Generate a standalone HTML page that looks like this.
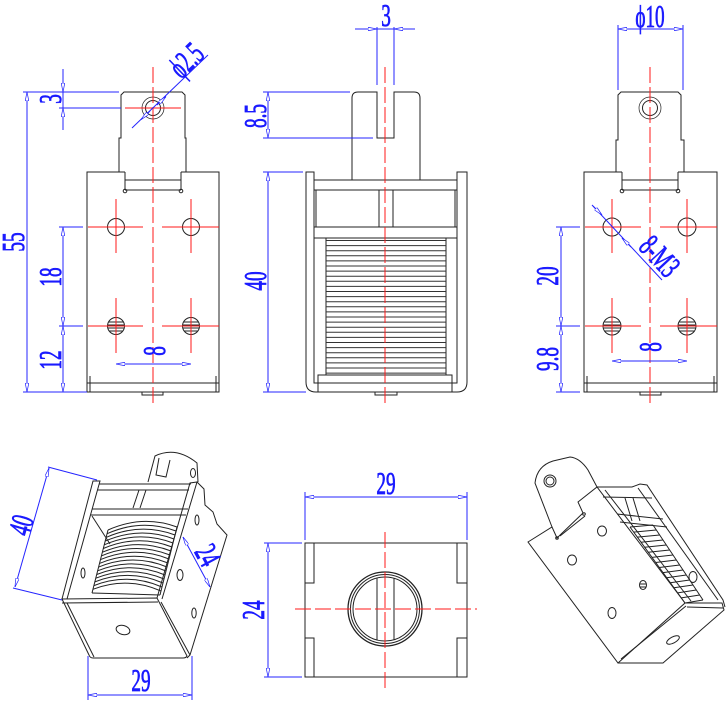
<!DOCTYPE html>
<html><head><meta charset="utf-8"><style>
html,body{margin:0;padding:0;background:#fff;}
svg{display:block}
.k{fill:none;stroke:#222;stroke-width:1}
.r{fill:none;stroke:#ff1a1a;stroke-width:1}
.rd{fill:none;stroke:#ff1a1a;stroke-width:1;stroke-dasharray:16 4}
.b{fill:none;stroke:#2424ff;stroke-width:1}
.t{font-family:"Liberation Serif",serif;font-size:32px;fill:#1a1aff;stroke:#1a1aff;stroke-width:0.8;text-anchor:middle;dominant-baseline:central}
</style></head><body>
<svg width="728" height="706" viewBox="0 0 728 706" xmlns="http://www.w3.org/2000/svg">
<defs>
<marker id="a" viewBox="0 0 10 4" refX="10" refY="2" markerWidth="9" markerHeight="3.6" markerUnits="userSpaceOnUse" orient="auto-start-reverse"><path d="M0,0L10,2L0,4Z" fill="#fff" stroke="#2424ff" stroke-width="0.8"/></marker>
</defs>

<!-- ============ LEFT VIEW ============ -->
<g class="k">
<path d="M119,172V138H121V95L124,92H182L185,95V138H186V172"/>
<path d="M125,172H87V392H219V172H181"/>
<path d="M125,172V190M181,172V190M125,180H181M125,190H181"/>
<circle cx="125" cy="191" r="1.8"/><circle cx="181" cy="191" r="1.8"/>
<path d="M87,383H219M90,376V392M216,376V392"/>
<rect x="142" y="392" width="21" height="3"/>
<circle cx="153" cy="108" r="11" stroke-width="0.7"/><circle cx="153" cy="108" r="7.5"/>
<circle cx="116" cy="227" r="8.5"/><circle cx="191" cy="227" r="8.5"/>
<circle cx="116" cy="326" r="8.5"/><circle cx="191" cy="326" r="8.5"/>
<path d="M108.5,322H123.5M107.6,325H124.4M107.7,328H124.3M109.1,331H122.9"/>
<path d="M183.5,322H198.5M182.6,325H199.4M182.7,328H199.3M184.1,331H197.9"/>
</g>
<g class="r">
<path d="M88,227H143M162,227H219M116,199V253M191,199V253M88,326H143M162,326H219M116,298V353M191,298V353M125,108H181"/>
</g>
<line class="rd" x1="153" y1="67" x2="153" y2="407"/>
<g class="b">
<path d="M23,92H119M23,392H87M59,108H121M59,227H83M59,326H83"/>
<path d="M27,92V392" marker-start="url(#a)" marker-end="url(#a)"/>
<path d="M63,69V92" marker-end="url(#a)"/>
<path d="M63,130V108" marker-end="url(#a)"/>
<path d="M63,92V108"/>
<path d="M63,227V326" marker-start="url(#a)" marker-end="url(#a)"/>
<path d="M63,326V392" marker-start="url(#a)" marker-end="url(#a)"/>
<path d="M116,364H191" marker-start="url(#a)" marker-end="url(#a)"/>
<path d="M132,128L208,55"/>
<path d="M150,111L141,119.6" marker-end="url(#a)"/>
<path d="M157,105L166,96.5" marker-end="url(#a)"/>
</g>
<text class="t" transform="translate(13,242) rotate(-90) scale(0.6,1)">55</text>
<text class="t" transform="translate(50,99) rotate(-90) scale(0.6,1)">3</text>
<text class="t" transform="translate(50,277) rotate(-90) scale(0.6,1)">18</text>
<text class="t" transform="translate(50,360) rotate(-90) scale(0.6,1)">12</text>
<text class="t" transform="translate(154,351) rotate(-90) scale(0.6,1)">8</text>
<text class="t" transform="translate(186,60) rotate(-44) scale(0.6,1)">ϕ2.5</text>

<!-- ============ MIDDLE VIEW ============ -->
<g class="k">
<path d="M352,180V98Q352,92 358,92H377V138H394V92H414Q420,92 420,98V180"/>
<path d="M306,172H314V383H457V172H467V382Q467,392 457,392H316Q306,392 306,382Z"/>
<rect x="314" y="180" width="143" height="10"/>
<rect x="316" y="190" width="139" height="37"/>
<path d="M379,190V227M393,190V227"/>
<rect x="314" y="227" width="143" height="11"/>
<rect x="318" y="375" width="134" height="17"/>
<rect x="375" y="392" width="22" height="3"/>
<path d="M326,238V375M446,238V375"/>
</g>
<line x1="386" y1="240" x2="386" y2="375" stroke="#333" stroke-width="120" stroke-dasharray="1 4.1"/>
<line class="rd" x1="385" y1="67" x2="385" y2="407"/>
<g class="b">
<path d="M377,27V85M394,27V85"/>
<path d="M355,29H377" marker-end="url(#a)"/>
<path d="M415,29H394" marker-end="url(#a)"/>
<path d="M377,29H394"/>
<path d="M263,92H350M263,138H373M263,172H303M263,392H306"/>
<path d="M268,92V138" marker-start="url(#a)" marker-end="url(#a)"/>
<path d="M268,172V392" marker-start="url(#a)" marker-end="url(#a)"/>
</g>
<text class="t" transform="translate(386,15) scale(0.6,1)">3</text>
<text class="t" transform="translate(255,116) rotate(-90) scale(0.6,1)">8.5</text>
<text class="t" transform="translate(255,281) rotate(-90) scale(0.6,1)">40</text>

<!-- ============ RIGHT VIEW ============ -->
<g class="k">
<path d="M616,172V140H618V95L621,92H678L681,95V140H684V172"/>
<path d="M622,172H584V392H717V172H678"/>
<path d="M622,172V190M678,172V190M622,180H678M622,190H678"/>
<circle cx="622" cy="191" r="1.8"/><circle cx="678" cy="191" r="1.8"/>
<path d="M584,383H717M587,376V392M714,376V392"/>
<rect x="640" y="392" width="21" height="3"/>
<circle cx="650" cy="108" r="11" stroke-width="0.7"/><circle cx="650" cy="108" r="7.5"/>
<circle cx="612" cy="227" r="9"/><circle cx="687" cy="227" r="9"/>
<circle cx="612" cy="326" r="9"/><circle cx="687" cy="326" r="9"/>
<path d="M604.5,322H619.5M603.6,325H620.4M603.7,328H620.3M605.1,331H618.9"/>
<path d="M679.5,322H694.5M678.6,325H695.4M678.7,328H695.3M680.1,331H693.9"/>
</g>
<g class="r">
<path d="M585,227H641M660,227H717M612,199V253M687,199V253M585,326H641M660,326H717M612,298V353M687,298V353"/>
</g>
<line class="rd" x1="650" y1="67" x2="650" y2="407"/>
<g class="b">
<path d="M618,25V90M683,25V90"/>
<path d="M618,29H683" marker-start="url(#a)" marker-end="url(#a)"/>
<path d="M556,227H580M556,326H580M556,392H580"/>
<path d="M561,227V326" marker-start="url(#a)" marker-end="url(#a)"/>
<path d="M561,326V392" marker-start="url(#a)" marker-end="url(#a)"/>
<path d="M612,361H687" marker-start="url(#a)" marker-end="url(#a)"/>
<path d="M592,205L662,280"/>
<path d="M593,206L602,215" marker-end="url(#a)"/>
<path d="M631,247L622,238" marker-end="url(#a)"/>
</g>
<text class="t" transform="translate(650,16) scale(0.6,1)">ϕ10</text>
<text class="t" transform="translate(547,276) rotate(-90) scale(0.6,1)">20</text>
<text class="t" transform="translate(547,359) rotate(-90) scale(0.6,1)">9.8</text>
<text class="t" transform="translate(650,347) rotate(-90) scale(0.6,1)">8</text>
<text class="t" transform="translate(660,256) rotate(47) scale(0.6,1)">8-M3</text>

<!-- ============ BOTTOM MIDDLE VIEW ============ -->
<g class="k">
<rect x="305" y="543" width="162" height="134"/>
<path d="M314,543V583H305M314,677V638H305M457,543V583H467M457,677V638H467"/>
<circle cx="385" cy="609" r="37" stroke-width="1.3"/>
<circle cx="385" cy="609" r="34.5"/>
<circle cx="385" cy="609" r="32"/>
<path d="M377,578V640M394,578V640"/>
</g>
<g class="rd">
<path d="M385,532V688"/>
<path d="M295,609H477"/>
</g>
<g class="b">
<path d="M305,492V540M467,492V540"/>
<path d="M305,497H467" marker-start="url(#a)" marker-end="url(#a)"/>
<path d="M264,543H302M264,677H302"/>
<path d="M268,543V677" marker-start="url(#a)" marker-end="url(#a)"/>
</g>
<text class="t" transform="translate(386,483) scale(0.6,1)">29</text>
<text class="t" transform="translate(253,610) rotate(-90) scale(0.6,1)">24</text>

<!-- ============ BOTTOM LEFT ISO ============ -->
<g class="k">
<path d="M62,599L157,598L187,656Q186,658 183,658L93,658Q90,658 89,655Z"/>
<path d="M62,603L158,602"/>
<path d="M67,603L94,657M161,602L190,655"/>
<ellipse cx="123" cy="630" rx="7" ry="4.5" transform="rotate(15 123 630)"/>
<path d="M62,599L93,481L100,481L67,599"/>
<ellipse cx="83" cy="573" rx="2" ry="5"/>
<path d="M157,598L190,483L197,482L162,599"/>
<path d="M197,482L204,489L205,505L213,512L217,524L227,535L190,655L187,658"/>
<ellipse cx="197" cy="520" rx="2" ry="5"/>
<ellipse cx="180" cy="575" rx="3" ry="5.5"/>
<ellipse cx="194" cy="613" rx="2.2" ry="5"/>
<path d="M99,484H191M97,490H189M92,509H188M90,515H186"/>
<path d="M133,508L139,490M140,508L146,490"/>
<path d="M92,516L110,544"/>
<path d="M148,482L155,456Q176,446 197,463L198,482"/>
<path d="M159,458L156,475L166,477L170,460"/>
<ellipse cx="193" cy="473" rx="2.5" ry="4.5"/>
<path d="M108,530L92,593M177,527L160,595"/>
<path d="M108,530Q142.5,514.5 177,527M107.1,533.7Q141.5,518.3 176,531M106.1,537.4Q140.6,522.2 175,535M105.2,541.1Q139.6,526.1 174,539M104.2,544.8Q138.6,529.9 173,543M103.3,548.5Q137.7,533.8 172,547M102.4,552.2Q136.7,537.6 171,551M101.4,555.9Q135.7,541.5 170,555M100.5,559.6Q134.8,545.3 169,559M99.5,563.4Q133.8,549.2 168,563M98.6,567.1Q132.8,553 167,567M97.6,570.8Q131.8,556.9 166,571M96.7,574.5Q130.9,560.7 165,575M95.8,578.2Q129.9,564.6 164,579M94.8,581.9Q128.9,568.4 163,583M93.9,585.6Q128,572.3 162,587M92.9,589.3Q127,576.2 161,591M92,593L160,595"/>
</g>
<g class="b">
<path d="M48,467L97,480M13,588L62,600"/>
<path d="M49,468L15,587" marker-start="url(#a)" marker-end="url(#a)"/>
<path d="M183,537L210,587" marker-start="url(#a)" marker-end="url(#a)"/>
<path d="M88,656V700M192,656V700"/>
<path d="M88,695H192" marker-start="url(#a)" marker-end="url(#a)"/>
</g>
<text class="t" transform="translate(21,525) rotate(-74) scale(0.6,1)">40</text>
<text class="t" transform="translate(208,555) rotate(62) scale(0.6,1)">24</text>
<text class="t" transform="translate(141,680) scale(0.6,1)">29</text>

<!-- ============ BOTTOM RIGHT ISO ============ -->
<g class="k">
<path d="M528,542L552,527L557,538L583,513L578,502L597,487L685,603L618,663Z"/>
<path d="M552,527L535,483Q537,466 553,461L570,457Q580,458 588,470L597,487"/>
<circle cx="557" cy="538" r="1.3"/><circle cx="584" cy="514" r="1.3"/>
<path d="M560,536L585,516"/>
<circle cx="550" cy="481" r="6"/><circle cx="550" cy="481" r="4"/>
<path d="M685,603L722,603L724,610L663,663L618,663"/>
<path d="M687,607L723,608M621,659L686,606"/>
<ellipse cx="673" cy="640" rx="7" ry="3" transform="rotate(-28 673 640)"/>
<path d="M605,490L691,601"/>
<path d="M597,487L632,487L640,484L647,485L723,600L725,607"/>
<path d="M638,488L718,600"/>
<path d="M603,497L652,498M617,514L663,519M620,522L667,527"/>
<path d="M625,498L632,521M633,498L640,521"/>
<path d="M630,527L685,603M653,525L703,600"/>
<path d="M630,527L653,525M633.7,532.1L656.3,530M637.3,537.1L659.7,535M641,542.2L663,540M644.7,547.3L666.3,545M648.3,552.3L669.7,550M652,557.4L673,555M655.7,562.5L676.3,560M659.3,567.5L679.7,565M663,572.6L683,570M666.7,577.7L686.3,575M670.3,582.7L689.7,580M674,587.8L693,585M677.7,592.9L696.3,590M681.3,597.9L699.7,595M685,603L703,600"/>
<ellipse cx="602" cy="531" rx="4.5" ry="5"/>
<ellipse cx="572" cy="560" rx="4.5" ry="5"/>
<ellipse cx="643" cy="585" rx="3.5" ry="4.5"/>
<path d="M640,584H646M640,587H646"/>
<ellipse cx="612" cy="613" rx="4" ry="5.5"/>
<ellipse cx="693" cy="577" rx="4" ry="5.5"/>
</g>
</svg>
</body></html>
